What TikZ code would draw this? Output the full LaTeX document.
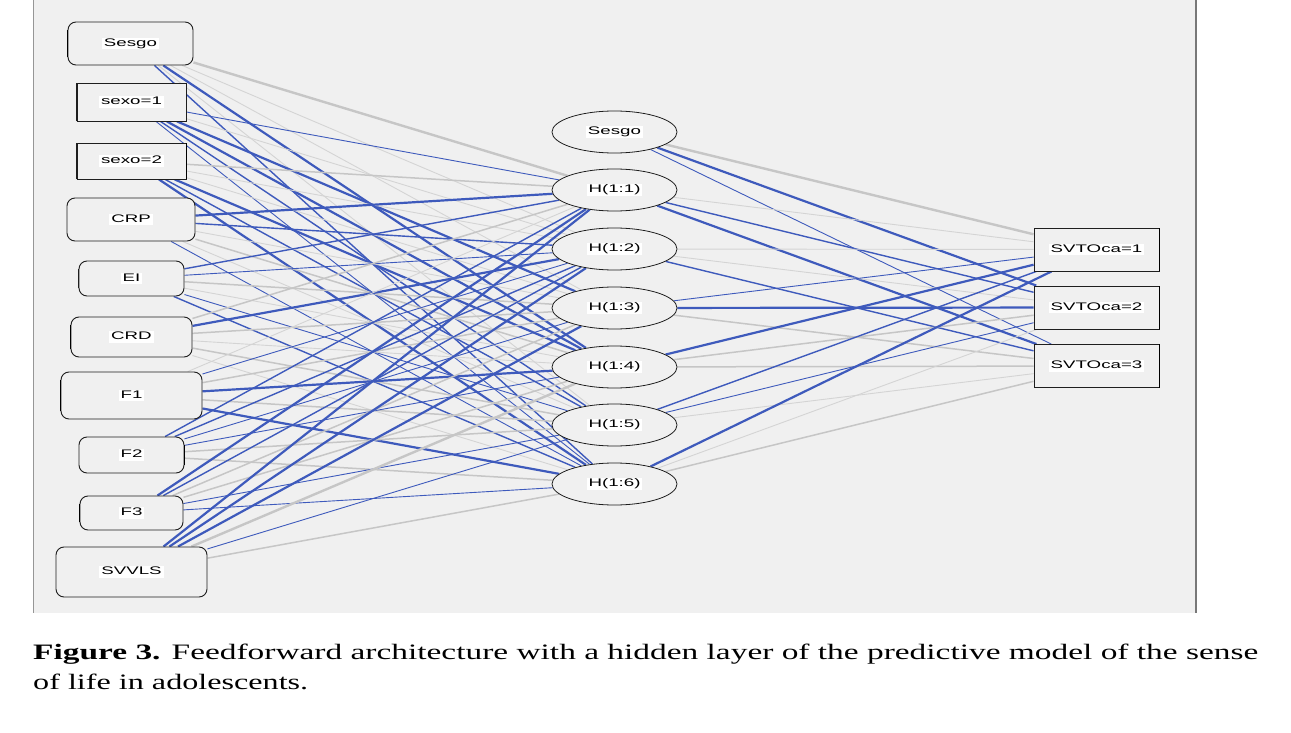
\documentclass[tikz,border=0pt]{standalone}
\usepackage{fontspec}
\setmainfont{Liberation Serif}
\newfontfamily\lblfont{Liberation Sans}
\usetikzlibrary{shapes.geometric}
\definecolor{bgc}{RGB}{240,240,240}
\definecolor{eblue}{RGB}{62,90,188}
\definecolor{egray}{RGB}{198,198,198}
\definecolor{egrayl}{RGB}{212,212,212}
\definecolor{bord}{RGB}{30,30,30}
\definecolor{lframe}{RGB}{150,150,150}
\definecolor{rframe}{RGB}{120,120,120}
\definecolor{shade}{RGB}{150,150,150}
\pgfdeclarelayer{bglayer}
\pgfdeclarelayer{edgelayer}
\pgfsetlayers{bglayer,edgelayer,main}
\newcommand{\lbl}[1]{{\setlength{\fboxsep}{1pt}\colorbox{white}{\lblfont\fontsize{11}{12}\selectfont\hspace{1pt}\scalebox{1.7}[1]{\vphantom{Hg}#1}\hspace{1pt}}}}
\begin{document}
\begin{tikzpicture}[x=1pt,y=-1pt,
  inbox/.style={draw=bord, line width=0.9pt, fill=bgc, rounded corners=8pt, inner sep=0pt},
  sqbox/.style={draw=bord, line width=0.9pt, fill=bgc, inner sep=0pt},
  hid/.style={ellipse, draw=bord, line width=0.8pt, fill=bgc, minimum width=125pt, minimum height=42pt, inner sep=0pt},
  outbox/.style={draw=bord, line width=0.9pt, fill=bgc, inner sep=0pt, minimum width=125pt, minimum height=43pt},
  edgeshade/.style={shade, line width=1.8pt},
  edgedark/.style={bord, line width=1.8pt},
  bthick/.style={eblue, line width=2.2pt},
  bmed/.style={eblue, line width=1.4pt},
  bthin/.style={eblue, line width=0.9pt},
  gthick/.style={egray, line width=2.4pt},
  gmed/.style={egray, line width=1.5pt},
  gthin/.style={egrayl, line width=0.9pt},
  captxt/.style={anchor=base west, inner sep=0pt}]
\useasboundingbox (0,0) rectangle (1291,733);
\begin{pgfonlayer}{bglayer}
  \fill[white] (0,0) rectangle (1291,733);
  \fill[bgc] (33,0) rectangle (1196,613);
  \draw[lframe, line width=1.5pt] (33.5,0) -- (33.5,613);
  \draw[rframe, line width=2.5pt] (1196,0) -- (1196,613);
\end{pgfonlayer}
% input layer
\node[inbox, minimum width=125pt, minimum height=43pt] (i0) at (130.5,43.5) {\lbl{Sesgo}};
\node[sqbox, minimum width=109pt, minimum height=38pt] (i1) at (131.5,102) {\lbl{sexo=1}};
\node[sqbox, minimum width=109pt, minimum height=36pt] (i2) at (131.5,161) {\lbl{sexo=2}};
\node[inbox, minimum width=128pt, minimum height=43pt] (i3) at (131,219.5) {\lbl{CRP}};
\node[inbox, minimum width=105pt, minimum height=35pt] (i4) at (131.5,278.5) {\lbl{EI}};
\node[inbox, minimum width=121pt, minimum height=40pt] (i5) at (131.5,337) {\lbl{CRD}};
\node[inbox, minimum width=141pt, minimum height=47pt] (i6) at (131.5,395.5) {\lbl{F1}};
\node[inbox, minimum width=105pt, minimum height=36pt] (i7) at (131.5,455) {\lbl{F2}};
\node[inbox, minimum width=103pt, minimum height=34pt] (i8) at (131.5,513) {\lbl{F3}};
\node[inbox, minimum width=151pt, minimum height=50pt] (i9) at (131.5,572) {\lbl{SVVLS}};
% shaded box edges
\draw[edgeshade] ([yshift=8pt]i0.south west) -- ([yshift=-8pt]i0.north west);
\draw[edgedark] (i1.south west) -- (i1.north west);
\draw[edgedark] (i2.south west) -- (i2.north west);
\draw[edgeshade] (i2.south east) -- (i2.north east);
\draw[edgedark] ([yshift=8pt]i4.south west) -- ([yshift=-8pt]i4.north west);
\draw[edgeshade] ([yshift=8pt]i5.south west) -- ([yshift=-8pt]i5.north west);
\draw[edgeshade] ([yshift=8pt]i6.south west) -- ([yshift=-8pt]i6.north west);
\draw[edgeshade] ([yshift=8pt]i7.south east) -- ([yshift=-8pt]i7.north east);
\draw[edgeshade] ([yshift=8pt]i8.south west) -- ([yshift=-8pt]i8.north west);
% hidden layer
\node[hid] (b)  at (614.5,132) {\lbl{Sesgo}};
\node[hid] (h1) at (614.5,190) {\lbl{H(1:1)}};
\node[hid] (h2) at (614.5,249) {\lbl{H(1:2)}};
\node[hid] (h3) at (614.5,308) {\lbl{H(1:3)}};
\node[hid] (h4) at (614.5,367) {\lbl{H(1:4)}};
\node[hid] (h5) at (614.5,425) {\lbl{H(1:5)}};
\node[hid] (h6) at (614.5,484) {\lbl{H(1:6)}};
% output layer
\node[outbox] (o1) at (1096.5,249.5) {\lbl{SVTOca=1}};
\node[outbox] (o2) at (1096.5,307.5) {\lbl{SVTOca=2}};
\node[outbox] (o3) at (1096.5,366) {\lbl{SVTOca=3}};
\foreach \o in {o1,o2,o3}
  \draw[edgeshade] (\o.south east) -- (\o.north east);
\begin{pgfonlayer}{edgelayer}
\foreach \a/\b/\s in {
  i0/h1/gthick, i0/h2/gthin, i0/h3/gthin, i0/h4/bthick, i0/h5/gthin, i0/h6/bmed,
  i1/h1/bthin, i1/h2/gthin, i1/h3/bthick, i1/h4/bthick, i1/h5/bmed, i1/h6/bthin,
  i2/h1/gmed, i2/h2/gthin, i2/h3/gthin, i2/h4/bthick, i2/h5/bmed, i2/h6/bthick,
  i3/h1/bthick, i3/h2/bmed, i3/h3/gthin, i3/h4/gmed, i3/h5/gthin, i3/h6/bthin,
  i4/h1/bmed, i4/h2/bthin, i4/h3/gmed, i4/h4/gthin, i4/h5/bthin, i4/h6/bmed,
  i5/h1/gmed, i5/h2/bthick, i5/h3/gmed, i5/h4/gthin, i5/h5/gmed, i5/h6/gthin,
  i6/h1/gthin, i6/h2/bthin, i6/h3/gmed, i6/h4/bthick, i6/h5/gmed, i6/h6/bthick,
  i7/h1/bmed, i7/h2/bmed, i7/h3/bthin, i7/h4/bthin, i7/h5/gmed, i7/h6/gmed,
  i8/h1/bthick, i8/h2/bmed, i8/h3/gmed, i8/h4/gmed, i8/h5/bthin, i8/h6/bthin,
  i9/h1/bthick, i9/h2/bthick, i9/h3/bthick, i9/h4/gthick, i9/h5/bthin, i9/h6/gmed,
  b/o1/gthick, b/o2/bthick, b/o3/bthin,
  h1/o1/gthin, h1/o2/bmed, h1/o3/bthick,
  h2/o1/gthin, h2/o2/gthin, h2/o3/bmed,
  h3/o1/bthin, h3/o2/bthick, h3/o3/gmed,
  h4/o1/bthick, h4/o2/gmed, h4/o3/gmed,
  h5/o1/bmed, h5/o2/bthin, h5/o3/gthin,
  h6/o1/bthick, h6/o2/gthin, h6/o3/gmed}
  \draw[\s] (\a) -- (\b);
\end{pgfonlayer}
% caption
\node[captxt] (cap1) at (33,659) {\resizebox{1225pt}{\height}{\fontsize{22}{26}\selectfont\textbf{Figure 3.} Feedforward architecture with a hidden layer of the predictive model of the sense}};
\node[captxt] (cap2) at (33,689) {\resizebox{275pt}{\height}{\fontsize{22}{26}\selectfont of life in adolescents.}};
\end{tikzpicture}
\end{document}
